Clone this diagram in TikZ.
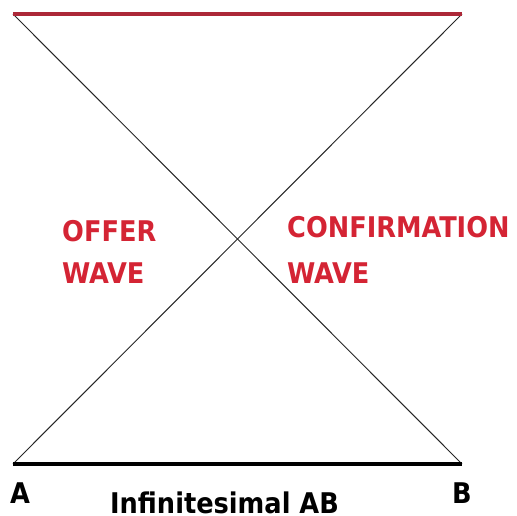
\documentclass[tikz,border=0pt]{standalone}
\usepackage{fontspec}
\setmainfont{DejaVu Sans Condensed}
\definecolor{topred}{RGB}{172,40,56}
\definecolor{txtred}{RGB}{212,36,52}
\begin{document}
\begin{tikzpicture}[x=1pt,y=1pt,
  lbl/.style={inner sep=0pt,anchor=base west,font=\fontsize{28.5}{33}\selectfont\bfseries},
  redlbl/.style={lbl,text=txtred},
  diag/.style={line width=1pt,black!85}]
\useasboundingbox (0,0) rectangle (517,515);
\coordinate (tl) at (13,501);
\coordinate (tr) at (462,501);
\coordinate (bl) at (13,51);
\coordinate (br) at (462,51);
\draw[diag] (tl) -- (br);
\draw[diag] (tr) -- (bl);
\draw[line width=4pt,topred] (tl) -- (tr);
\draw[line width=4pt,black] (bl) -- (br);
\node[redlbl] (offer) at (62,273) {OFFER};
\node[redlbl] (offerw) at (62,232) {WAVE};
\node[redlbl] (conf) at (287,277) {CONFIRMATION};
\node[redlbl] (confw) at (287,232) {WAVE};
\node[lbl] (A) at (10,12) {A};
\node[lbl] (B) at (452,12) {B};
\node[lbl] (inf) at (110,2) {Infinitesimal AB};
\end{tikzpicture}
\end{document}
